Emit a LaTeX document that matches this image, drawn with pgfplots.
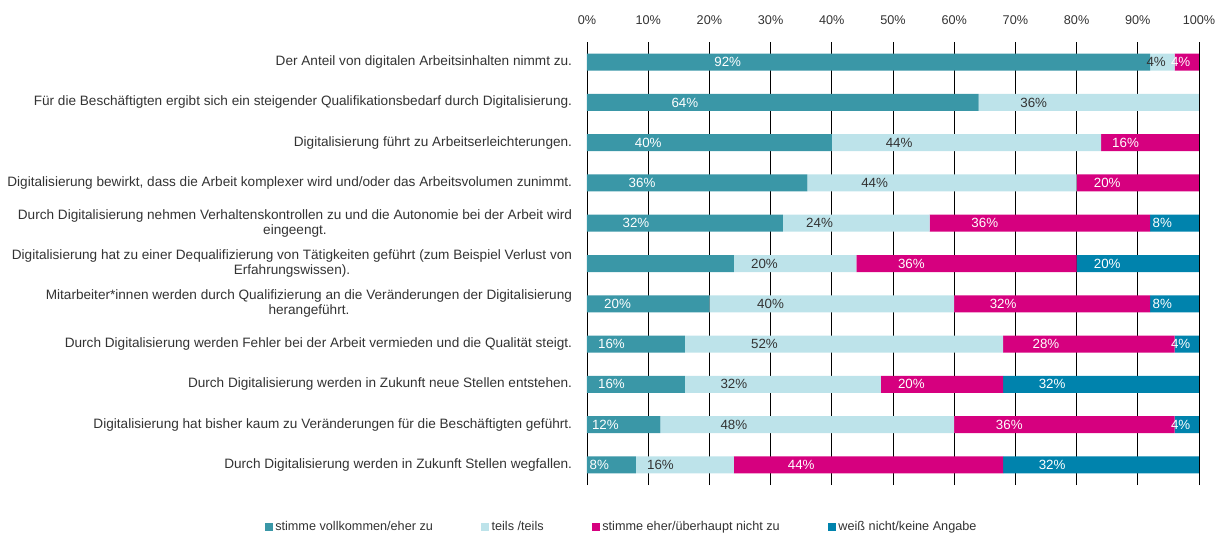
\documentclass[border=0pt]{standalone}
\usepackage{pgfplots}
\pgfplotsset{compat=1.18}
\usepackage{fontspec}
\setmainfont{Liberation Sans}
\definecolor{cZu}{HTML}{3A97A7}
\definecolor{cTeils}{HTML}{BDE3EA}
\definecolor{cNicht}{HTML}{D6007F}
\definecolor{cWeiss}{HTML}{0083AD}
\definecolor{txt}{HTML}{333333}
\begin{document}
\begin{tikzpicture}
\path[use as bounding box] (-440.25pt,-39pt) rectangle (483.75pt,363.75pt);
\begin{axis}[
  xbar stacked,
  scale only axis,
  width=459pt, height=332.25pt,
  bar width=12.75pt,
  xmin=0, xmax=100,
  ymin=0.5, ymax=11.5,
  axis line style={draw=none},
  major tick length=0pt,
  /pgf/number format/assume math mode=true,
  xtick={0,10,...,100},
  xticklabel={\pgfmathprintnumber{\tick}\%},
  xticklabel pos=upper,
  xticklabel style={font=\fontsize{9.5pt}{11pt}\selectfont, text=txt, inner sep=0pt, anchor=south, yshift=13pt},
  xmajorgrids,
  grid style={black, line width=0.6pt},
  ytick={1,...,11},
  yticklabels={
    {Durch Digitalisierung werden in Zukunft Stellen wegfallen.},
    {Digitalisierung hat bisher kaum zu Veränderungen für die Beschäftigten geführt.},
    {Durch Digitalisierung werden in Zukunft neue Stellen entstehen.},
    {Durch Digitalisierung werden Fehler bei der Arbeit vermieden und die Qualität steigt.},
    {Mitarbeiter*innen werden durch Qualifizierung an die Veränderungen der Digitalisierung\\herangeführt.},
    {Digitalisierung hat zu einer Dequalifizierung von Tätigkeiten geführt (zum Beispiel Verlust von\\Erfahrungswissen).},
    {Durch Digitalisierung nehmen Verhaltenskontrollen zu und die Autonomie bei der Arbeit wird\\eingeengt.},
    {Digitalisierung bewirkt, dass die Arbeit komplexer wird und/oder das Arbeitsvolumen zunimmt.},
    {Digitalisierung führt zu Arbeitserleichterungen.},
    {Für die Beschäftigten ergibt sich ein steigender Qualifikationsbedarf durch Digitalisierung.},
    {Der Anteil von digitalen Arbeitsinhalten nimmt zu.}},
  yticklabel style={font=\fontsize{10.2pt}{11.25pt}\selectfont, text=txt, align=center, anchor=east, inner sep=0pt, xshift=-11pt},
  point meta=explicit symbolic,
  nodes near coords,
  visualization depends on={rawx \as \rawx},
  every node near coord/.append style={anchor=center, font=\fontsize{10pt}{11pt}\selectfont,
    shift={(axis direction cs:-\rawx/4,0)}},
  legend style={at={(rel axis cs:0.057,-0.095)}, anchor=center, draw=none,
    font=\fontsize{9.5pt}{11pt}\selectfont, text=txt,
    /tikz/every even column/.append style={column sep=34pt}},
  legend columns=4,
  legend image code/.code={\fill[#1] (0pt,-3pt) rectangle (6pt,3pt);},
]
\addplot[fill=cZu, draw=none, nodes near coords style={text=white}] coordinates {
  (8,1)[8\%] (12,2)[12\%] (16,3)[16\%] (16,4)[16\%] (20,5)[20\%] (24,6)[]
  (32,7)[32\%] (36,8)[36\%] (40,9)[40\%] (64,10)[64\%] (92,11)[92\%]};
\addplot[fill=cTeils, draw=none, nodes near coords style={text=txt}] coordinates {
  (16,1)[16\%] (48,2)[48\%] (32,3)[32\%] (52,4)[52\%] (40,5)[40\%] (20,6)[20\%]
  (24,7)[24\%] (44,8)[44\%] (44,9)[44\%] (36,10)[36\%] (4,11)[4\%]};
\addplot[fill=cNicht, draw=none, nodes near coords style={text=white}] coordinates {
  (44,1)[44\%] (36,2)[36\%] (20,3)[20\%] (28,4)[28\%] (32,5)[32\%] (36,6)[36\%]
  (36,7)[36\%] (20,8)[20\%] (16,9)[16\%] (0,10)[] (4,11)[4\%]};
\addplot[fill=cWeiss, draw=none, nodes near coords style={text=white}] coordinates {
  (32,1)[32\%] (4,2)[4\%] (32,3)[32\%] (4,4)[4\%] (8,5)[8\%] (20,6)[20\%]
  (8,7)[8\%] (0,8)[] (0,9)[] (0,10)[] (0,11)[0\%]};
\legend{stimme vollkommen/eher zu, teils /teils, stimme eher/überhaupt nicht zu, weiß nicht/keine Angabe}
\end{axis}
\end{tikzpicture}
\end{document}
